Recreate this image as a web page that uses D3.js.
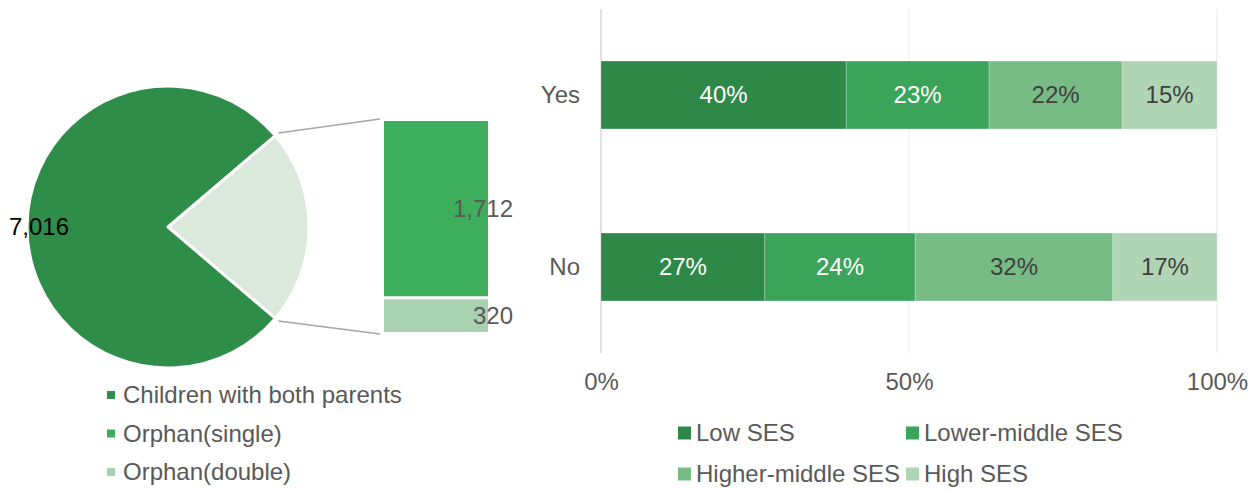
<!DOCTYPE html>
<html>
<head>
<meta charset="utf-8">
<script src="https://cdn.jsdelivr.net/npm/d3@7"></script>
<style>
  body { margin: 0; background: #fff; }
  svg text { font-family: "Liberation Sans", Arial, sans-serif; }
</style>
</head>
<body>
<svg id="chart" width="1260" height="490"></svg>
<script>
// pie of pie data
var pieLabels = ['Children with both parents', 'Orphan(single)', 'Orphan(double)'];
var pieValues = [7016, 1712, 320];
var pieColors = ['#2f8d4a', '#3eae5d', '#a8d1b0'];

// stacked bar data (share of each SES group)
var barCategories = ['Yes', 'No'];
var sesGroups = ['Low SES', 'Lower-middle SES', 'Higher-middle SES', 'High SES'];
var sesYes = [0.398, 0.232, 0.216, 0.154];
var sesNo = [0.266, 0.244, 0.321, 0.169];
var sesColors = ['#2e8848', '#3ba35a', '#77bc85', '#b0d5b5'];
var sesLabelColors = ['#ffffff', '#ffffff', '#404040', '#404040'];
var tickValues = [0, 0.5, 1];

var fontSize = 24;
var svg = d3.select('#chart');
var fmt = d3.format(',');

// ---------- pie of pie ----------
var cx = 168, cy = 227, r = 141;
var otherTotal = d3.sum(pieValues.slice(1));
var total = d3.sum(pieValues);
var otherAngle = 2 * Math.PI * otherTotal / total;
var start = Math.PI / 2 - otherAngle / 2;

var pieData = [
    {name: 'other', value: otherTotal, color: '#dbe9dd'},
    {name: pieLabels[0], value: pieValues[0], color: pieColors[0]}
];

var pie = d3.pie()
    .sort(null)
    .value(function(d) { return d.value; })
    .startAngle(start)
    .endAngle(start + 2 * Math.PI);

var arc = d3.arc().innerRadius(0).outerRadius(r);

var pieG = svg.append('g')
    .attr('transform', 'translate(' + [cx, cy] + ')');

var slices = pie(pieData);
pieG.selectAll('path')
    .data(slices)
    .enter()
    .append('path')
    .attr('d', arc)
    .attr('fill', function(d) { return d.data.color; })
    .attr('stroke', '#fff')
    .attr('stroke-width', 3)
    .attr('stroke-linejoin', 'round');

pieG.append('text')
    .attr('x', -129)
    .attr('y', 0)
    .attr('dy', '0.35em')
    .attr('text-anchor', 'middle')
    .attr('font-size', fontSize)
    .attr('fill', '#000')
    .text(fmt(pieValues[0]));

// the secondary bar
var barX = 384, barW = 104, barTop = 121, gap = 3;
var hScale = d3.scaleLinear()
    .domain([0, otherTotal])
    .range([0, 211 - gap]);

var orphans = pieValues.slice(1).map(function(v, i) {
    return {value: v, color: pieColors[i + 1]};
});
var yAcc = barTop;
orphans.forEach(function(d) {
    d.y = yAcc;
    d.h = hScale(d.value);
    yAcc += d.h + gap;
});

svg.selectAll('.orphan')
    .data(orphans)
    .enter()
    .append('rect')
    .attr('class', 'orphan')
    .attr('x', barX)
    .attr('y', function(d) { return d.y; })
    .attr('width', barW)
    .attr('height', function(d) { return d.h; })
    .attr('fill', function(d) { return d.color; });

svg.selectAll('.orphanLabel')
    .data(orphans)
    .enter()
    .append('text')
    .attr('class', 'orphanLabel')
    .attr('x', 513)
    .attr('y', function(d) { return d.y + d.h / 2; })
    .attr('dy', '0.35em')
    .attr('text-anchor', 'end')
    .attr('font-size', fontSize)
    .attr('fill', '#595959')
    .text(function(d) { return fmt(d.value); });

// connector lines
var a0 = slices[0].startAngle, a1 = slices[0].endAngle;
var p0 = [cx + (r + 4) * Math.sin(a0), cy - (r + 4) * Math.cos(a0)];
var p1 = [cx + (r + 4) * Math.sin(a1), cy - (r + 4) * Math.cos(a1)];
svg.append('line')
    .attr('x1', p0[0]).attr('y1', p0[1])
    .attr('x2', barX - 4).attr('y2', barTop - 2)
    .attr('stroke', '#a6a6a6').attr('stroke-width', 1.5);
svg.append('line')
    .attr('x1', p1[0]).attr('y1', p1[1])
    .attr('x2', barX - 4).attr('y2', yAcc - gap + 2)
    .attr('stroke', '#a6a6a6').attr('stroke-width', 1.5);

// pie legend
var pieLegend = svg.selectAll('.pieLegend')
    .data(pieLabels)
    .enter()
    .append('g')
    .attr('class', 'pieLegend')
    .attr('transform', function(d, i) {
        return 'translate(' + [107, 395 + i * 38.5] + ')';
    });
pieLegend.append('rect')
    .attr('x', 0).attr('y', -4)
    .attr('width', 8).attr('height', 8)
    .attr('fill', function(d, i) { return pieColors[i]; });
pieLegend.append('text')
    .attr('x', 16)
    .attr('dy', '0.35em')
    .attr('font-size', fontSize)
    .attr('fill', '#595959')
    .text(function(d) { return d; });

// ---------- stacked bar ----------
var xScale = d3.scaleLinear().domain([0, 1]).range([601, 1217]);
var yScale = d3.scaleBand()
    .domain(barCategories)
    .range([9, 353])
    .paddingInner(0.605)
    .paddingOuter(0.3025);

// gridlines
svg.selectAll('.grid')
    .data(tickValues)
    .enter()
    .append('line')
    .attr('class', 'grid')
    .attr('x1', function(d) { return xScale(d); })
    .attr('x2', function(d) { return xScale(d); })
    .attr('y1', 9)
    .attr('y2', 353)
    .attr('stroke', function(d) { return d === 0 ? '#d9d9d9' : '#f0f0f0'; })
    .attr('stroke-width', 1.5);

var rows = [sesYes, sesNo];
var segs = [];
rows.forEach(function(vals, ri) {
    var acc = 0;
    vals.forEach(function(v, si) {
        segs.push({cat: barCategories[ri], s: si, x0: acc, x1: acc + v, v: v});
        acc += v;
    });
});

svg.selectAll('.seg')
    .data(segs)
    .enter()
    .append('rect')
    .attr('class', 'seg')
    .attr('x', function(d) { return xScale(d.x0); })
    .attr('y', function(d) { return yScale(d.cat); })
    .attr('width', function(d) { return xScale(d.x1) - xScale(d.x0); })
    .attr('height', yScale.bandwidth())
    .attr('fill', function(d) { return sesColors[d.s]; })
    .attr('stroke', '#ffffff')
    .attr('stroke-opacity', 0.35)
    .attr('stroke-width', 0.75);

svg.selectAll('.segLabel')
    .data(segs)
    .enter()
    .append('text')
    .attr('class', 'segLabel')
    .attr('x', function(d) { return (xScale(d.x0) + xScale(d.x1)) / 2; })
    .attr('y', function(d) { return yScale(d.cat) + yScale.bandwidth() / 2; })
    .attr('dy', '0.35em')
    .attr('text-anchor', 'middle')
    .attr('font-size', fontSize)
    .attr('fill', function(d) { return sesLabelColors[d.s]; })
    .text(function(d) { return Math.round(d.v * 100) + '%'; });

// category axis
svg.selectAll('.catLabel')
    .data(barCategories)
    .enter()
    .append('text')
    .attr('class', 'catLabel')
    .attr('x', 580)
    .attr('y', function(d) { return yScale(d) + yScale.bandwidth() / 2; })
    .attr('dy', '0.35em')
    .attr('text-anchor', 'end')
    .attr('font-size', fontSize)
    .attr('fill', '#595959')
    .text(function(d) { return d; });

// value axis
var xAxis = svg.append('g')
    .attr('transform', 'translate(0,353)')
    .call(d3.axisBottom(xScale)
        .tickValues(tickValues)
        .tickSize(0)
        .tickPadding(20)
        .tickFormat(function(d) { return Math.round(d * 100) + '%'; }));
xAxis.select('.domain').remove();
xAxis.selectAll('text')
    .attr('font-size', fontSize)
    .attr('font-family', '"Liberation Sans", Arial, sans-serif')
    .attr('fill', '#595959');

// bar legend
var sesLegend = svg.selectAll('.sesLegend')
    .data(sesGroups)
    .enter()
    .append('g')
    .attr('class', 'sesLegend')
    .attr('transform', function(d, i) {
        return 'translate(' + [678 + (i % 2) * 228, 433 + Math.floor(i / 2) * 41] + ')';
    });
sesLegend.append('rect')
    .attr('x', 0).attr('y', -6.5)
    .attr('width', 13).attr('height', 13)
    .attr('fill', function(d, i) { return sesColors[i]; });
sesLegend.append('text')
    .attr('x', 18)
    .attr('dy', '0.35em')
    .attr('font-size', fontSize)
    .attr('fill', '#595959')
    .text(function(d) { return d; });
</script>
</body>
</html>
